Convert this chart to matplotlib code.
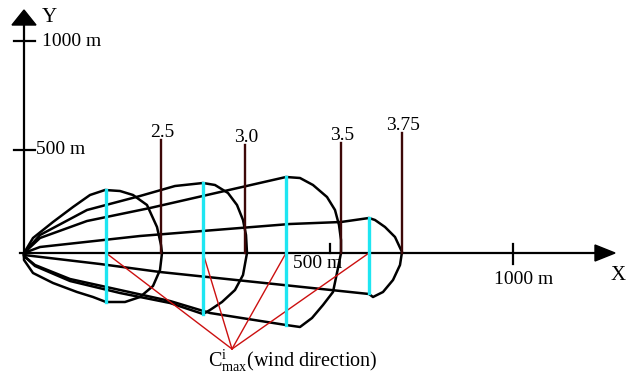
import matplotlib
matplotlib.use("Agg")
import matplotlib.pyplot as plt

plt.rcParams['font.family'] = ['Liberation Serif', 'DejaVu Serif']
plt.rcParams['mathtext.fontset'] = 'custom'
plt.rcParams['mathtext.rm'] = 'Liberation Serif'
plt.rcParams['mathtext.it'] = 'Liberation Serif:italic'

# ---------------- data (diagram units, origin at axis origin) ----------------
wind_speeds = ["2.5", "3.0", "3.5", "3.75"]
speed_x = [137, 221, 317, 378]
speed_top = [113, 108, 110, 120]

cmax_x = [82, 179, 262, 345]
cmax_top = [63, 70, 76, 35]
cmax_bottom = [-49, -61, -72, -40]
cmax_focus_x = 208
cmax_focus_y = -96

x_ticks = [306, 489]
x_tick_labels = ["500 m", "1000 m"]
y_ticks = [103, 212]
y_tick_labels = ["500 m", "1000 m"]

plume1_x = [0, 9, 29, 49, 66, 81, 96, 109, 123, 133, 137, 138, 136, 129, 116, 101, 82, 69, 53, 29, 9, 0, 0]
plume1_y = [0, 15, 31, 46, 58, 63, 62, 58, 48, 26, 8, 0, -17, -33, -44, -49, -49, -44, -39, -30, -20, -7, 0]

plume2_x = [0, 16, 63, 116, 151, 179, 191, 204, 213, 219, 222, 223, 219, 211, 198, 186, 179, 146, 96, 46, 11, 0, 0]
plume2_y = [0, 18, 43, 57, 67, 70, 68, 60, 48, 33, 18, 0, -22, -37, -49, -57, -61, -50, -40, -28, -13, -3, 0]

plume3_x = [0, 16, 63, 126, 262, 276, 289, 303, 311, 315, 317, 317, 314, 309, 299, 288, 276, 262, 186, 146, 96, 46, 11, 0, 0]
plume3_y = [0, 15, 32, 45, 76, 75, 68, 56, 43, 28, 13, 0, -15, -39, -52, -65, -74, -72, -60, -48, -37, -26, -12, -3, 0]

plume4_x = [0, 16, 116, 266, 317, 345, 351, 361, 371, 378, 376, 369, 359, 349, 345, 136, 76, 0, 0]
plume4_y = [0, 6, 17, 29, 31, 35, 33, 26, 16, 1, -12, -27, -39, -44, -41, -19, -11, -2, 0]

plumes = [(plume1_x, plume1_y), (plume2_x, plume2_y), (plume3_x, plume3_y), (plume4_x, plume4_y)]

# ---------------- figure ----------------
fig = plt.figure(figsize=(6.29, 3.76), dpi=100)
ax = fig.add_axes([0, 0, 1, 1])
ax.set_xlim(-24, 605)
ax.set_ylim(-123, 253)
ax.axis('off')

FS = 14

# axes
ax.plot([-4, 575], [0, 0], color='black', lw=1.6, zorder=3)
ax.plot([0, 0], [-4, 230], color='black', lw=1.6, zorder=3)
ax.fill([571, 591, 571], [8, 0, -8], color='black', zorder=4)
ax.fill([-12, 0, 12], [228, 243, 228], color='black', zorder=4)
ax.text(594, -23, "X", fontsize=15, ha='center', va='center')
ax.text(18, 235, "Y", fontsize=15, ha='left', va='center')

for yt, lab in zip(y_ticks, y_tick_labels):
    ax.plot([-10, 11], [yt, yt], color='black', lw=1.6, zorder=3)
ax.text(18, y_ticks[1], y_tick_labels[1], fontsize=FS, ha='left', va='center')
ax.text(12, y_ticks[0], y_tick_labels[0], fontsize=FS, ha='left', va='center')

ax.plot([x_ticks[0], x_ticks[0]], [0, 9], color='black', lw=1.6, zorder=3)
ax.plot([x_ticks[1], x_ticks[1]], [-11, 9], color='black', lw=1.6, zorder=3)
ax.text(x_ticks[0] - 37, -10, x_tick_labels[0], fontsize=FS, ha='left', va='center', zorder=1)
ax.text(x_ticks[1] + 11, -27, x_tick_labels[1], fontsize=FS, ha='center', va='center')

# plume outlines
for px, py in plumes:
    ax.plot(px, py, color='black', lw=1.8, solid_joinstyle='round', solid_capstyle='round', zorder=2)

# wind-speed distance markers
for x, top, lab in zip(speed_x, speed_top, wind_speeds):
    ax.plot([x, x], [0, top], color='#3d0808', lw=1.7, zorder=5)
    ax.text(x + 1, top + 3, lab, fontsize=FS, ha='center', va='baseline')

# Cmax red lines
for x in cmax_x:
    ax.plot([x, cmax_focus_x], [0, cmax_focus_y], color='#cc1010', lw=1.0, zorder=6)

# Cmax cross-sections
for x, t, b in zip(cmax_x, cmax_top, cmax_bottom):
    ax.plot([x, x], [b, t], color='#1ee6f2', lw=2.4, zorder=7)

ax.text(184, -108, r"$\mathrm{C}_{\mathrm{max}}^{\mathrm{i}}$(wind direction)", fontsize=14.5,
        ha='left', va='center')

fig.savefig("out.png", dpi=100)
